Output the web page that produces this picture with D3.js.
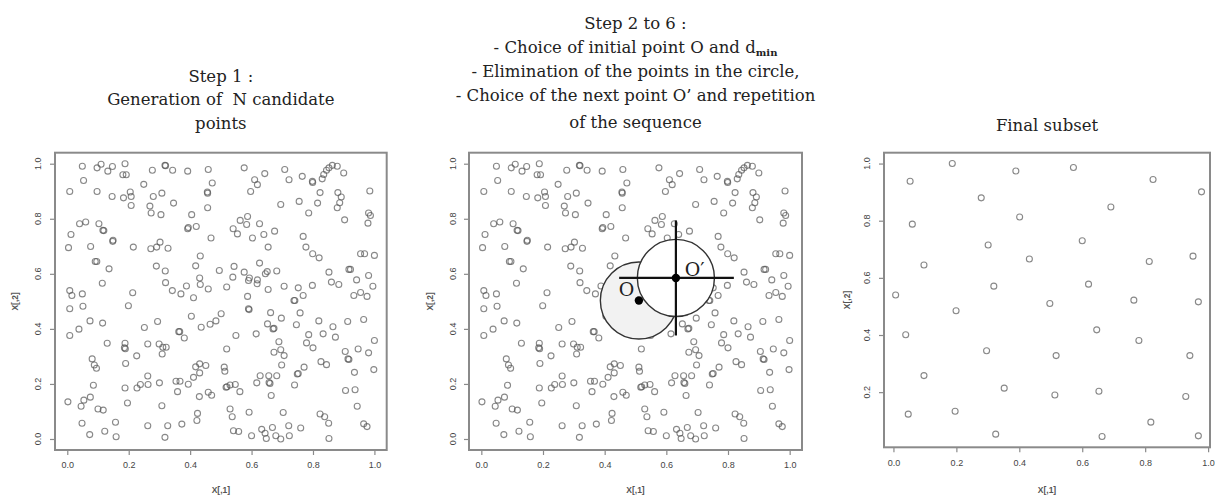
<!DOCTYPE html>
<html>
<head>
<meta charset="utf-8">
<script src="https://cdn.jsdelivr.net/npm/d3@7"></script>
<style>
  html, body { margin: 0; padding: 0; background: #fff; }
  svg { display: block; }
</style>
</head>
<body>
<svg id="chart" width="1216" height="496"></svg>
<script>
// ---------------- DATA ----------------
const candidatePoints = [
  [0.049,0.991],[0.097,0.985],[0.110,0.998],[0.132,0.973],[0.147,0.990],[0.188,1.000],[0.181,0.960],[0.192,0.960],
  [0.277,0.976],[0.318,0.994],[0.320,0.993],[0.343,0.976],[0.392,0.973],[0.459,0.979],[0.576,0.985],[0.643,0.964],
  [0.708,0.979],[0.765,0.954],[0.798,0.936],[0.799,0.932],[0.830,0.945],[0.835,0.961],[0.844,0.976],[0.852,0.985],
  [0.863,0.994],[0.879,0.991],[0.900,0.966],[0.053,0.939],[0.008,0.899],[0.097,0.899],[0.146,0.881],
  [0.183,0.876],[0.205,0.897],[0.208,0.881],[0.208,0.848],[0.249,0.925],[0.280,0.881],[0.308,0.893],[0.269,0.846],
  [0.273,0.821],[0.305,0.815],[0.346,0.857],[0.405,0.815],[0.457,0.893],[0.456,0.897],[0.457,0.840],[0.472,0.930],
  [0.610,0.942],[0.619,0.924],[0.597,0.899],[0.722,0.942],[0.695,0.852],[0.755,0.863],[0.786,0.821],[0.815,0.857],
  [0.823,0.895],[0.881,0.895],[0.892,0.879],[0.887,0.858],[0.879,0.840],[0.985,0.901],[0.981,0.821],[0.987,0.812],
  [0.903,0.796],[0.979,0.784],
  [0.040,0.782],[0.060,0.788],[0.012,0.743],[0.103,0.782],[0.116,0.758],[0.119,0.757],[0.148,0.718],[0.149,0.722],
  [0.004,0.695],[0.076,0.699],[0.215,0.697],[0.272,0.691],[0.291,0.697],[0.302,0.715],[0.328,0.693],[0.392,0.764],
  [0.394,0.768],[0.420,0.772],[0.433,0.665],[0.468,0.730],[0.091,0.645],[0.096,0.645],[0.136,0.618],[0.114,0.566],
  [0.290,0.628],[0.319,0.610],[0.320,0.568],[0.342,0.539],[0.370,0.527],[0.388,0.556],[0.418,0.629],[0.431,0.585],
  [0.433,0.561],[0.411,0.513],[0.459,0.545],[0.495,0.612],[0.519,0.552],[0.543,0.627],[0.539,0.588],
  [0.563,0.794],[0.587,0.808],[0.584,0.779],[0.540,0.764],[0.554,0.745],[0.603,0.730],[0.626,0.782],[0.640,0.743],
  [0.675,0.755],[0.654,0.697],[0.576,0.606],[0.590,0.576],[0.593,0.585],[0.619,0.578],[0.618,0.564],[0.626,0.639],
  [0.645,0.600],[0.651,0.608],[0.682,0.610],[0.654,0.543],[0.706,0.555],[0.752,0.549],[0.768,0.521],[0.798,0.558],
  [0.768,0.736],[0.777,0.697],[0.799,0.673],[0.820,0.658],[0.852,0.606],[0.860,0.570],[0.884,0.561],[0.917,0.616],
  [0.922,0.616],[0.942,0.578],[0.955,0.673],[0.968,0.673],[1.000,0.667],[0.981,0.594],[0.995,0.555],[0.933,0.521],
  [0.955,0.532],[0.976,0.518],
  [0.008,0.539],[0.015,0.521],[0.049,0.527],[0.008,0.473],[0.051,0.482],[0.213,0.531],[0.199,0.484],[0.074,0.429],
  [0.115,0.421],[0.038,0.399],[0.008,0.376],[0.251,0.405],[0.294,0.427],[0.404,0.446],[0.436,0.406],[0.465,0.417],
  [0.484,0.429],[0.501,0.455],[0.590,0.473],[0.592,0.470],[0.587,0.518],[0.662,0.459],[0.652,0.418],[0.673,0.402],
  [0.670,0.400],[0.697,0.439],[0.738,0.503],[0.741,0.503],[0.758,0.458],[0.746,0.415],[0.819,0.429],[0.865,0.408],
  [0.913,0.427],[0.965,0.434],[0.363,0.390],[0.366,0.390],[0.381,0.367],[0.549,0.376],[0.615,0.382],[0.786,0.379],
  [0.833,0.382],[0.873,0.370],
  [0.188,0.348],[0.186,0.331],[0.189,0.328],[0.262,0.345],[0.299,0.345],[0.311,0.333],[0.322,0.333],[0.309,0.309],
  [0.130,0.348],[0.226,0.302],[0.081,0.291],[0.088,0.269],[0.095,0.257],[0.190,0.274],[0.519,0.327],[0.689,0.353],
  [0.673,0.315],[0.695,0.324],[0.706,0.303],[0.800,0.331],[0.779,0.349],[0.905,0.318],[0.914,0.291],[0.917,0.289],
  [0.947,0.327],[1.000,0.358],[0.981,0.313],[0.418,0.262],[0.431,0.273],[0.451,0.267],[0.431,0.240],[0.411,0.224],
  [0.511,0.261],[0.513,0.246],[0.698,0.269],[0.771,0.261],[0.749,0.236],[0.752,0.238],[0.826,0.281],[0.844,0.270],
  [0.935,0.242],[0.998,0.252],[0.085,0.195],[0.262,0.229],[0.263,0.198],[0.300,0.204],[0.238,0.198],[0.227,0.185],
  [0.188,0.185],[0.354,0.210],[0.367,0.210],[0.359,0.172],[0.394,0.199],[0.517,0.188],[0.520,0.190],[0.530,0.196],
  [0.547,0.198],[0.562,0.172],[0.617,0.204],[0.628,0.230],[0.656,0.230],[0.660,0.202],[0.657,0.205],[0.682,0.230],
  [0.664,0.158],[0.740,0.196],[0.906,0.176],[0.937,0.179],
  [0.002,0.135],[0.045,0.119],[0.054,0.141],[0.075,0.152],[0.100,0.109],[0.117,0.105],[0.196,0.131],[0.308,0.121],
  [0.430,0.154],[0.459,0.170],[0.470,0.159],[0.530,0.109],[0.537,0.081],[0.592,0.097],[0.703,0.096],[0.424,0.093],
  [0.422,0.067],[0.048,0.057],[0.157,0.061],[0.073,0.016],[0.122,0.028],[0.159,0.008],[0.262,0.048],[0.318,0.006],
  [0.327,0.048],[0.373,0.054],[0.541,0.030],[0.558,0.027],[0.600,0.012],[0.633,0.035],[0.644,0.021],[0.648,0.002],
  [0.668,0.042],[0.679,0.012],[0.695,0.000],[0.723,0.012],[0.721,0.048],[0.760,0.040],[0.823,0.091],[0.838,0.081],
  [0.851,0.057],[0.852,0.002],[0.944,0.119],[0.965,0.055],[0.976,0.045]
];

const finalPoints = [
  [0.187,1.000],[0.389,0.974],[0.572,0.986],[0.053,0.938],[0.825,0.944],[0.979,0.901],[0.279,0.880],[0.691,0.848],
  [0.401,0.813],[0.060,0.788],[0.600,0.730],[0.301,0.715],[0.432,0.666],[0.952,0.676],[0.813,0.657],[0.097,0.645],
  [0.620,0.578],[0.319,0.571],[0.007,0.540],[0.764,0.522],[0.969,0.516],[0.497,0.510],[0.199,0.485],[0.646,0.418],
  [0.039,0.401],[0.780,0.381],[0.296,0.345],[0.517,0.328],[0.942,0.328],[0.097,0.258],[0.352,0.214],[0.653,0.203],
  [0.513,0.190],[0.929,0.185],[0.047,0.123],[0.196,0.133],[0.818,0.095],[0.325,0.053],[0.663,0.045],[0.969,0.047]
];

const xTickValues = [0, 0.2, 0.4, 0.6, 0.8, 1.0];
const yTickValuesFull = [0, 0.2, 0.4, 0.6, 0.8, 1.0];
const yTickValuesFinal = [0.2, 0.4, 0.6, 0.8, 1.0];

const title1 = ["Step 1 :", "Generation of  N candidate", "points"];
const title2 = ["Step 2 to 6 :", "- Choice of initial point O and d", "- Elimination of the points in the circle,", "- Choice of the next point O\u2019 and repetition", "of the sequence"];
const title3 = ["Final subset"];

const pointO = [0.511, 0.503];
const pointOprime = [0.631, 0.585];
const dmin = 0.125;
const crossH = [0.447, 0.819];
const crossV = [0.376, 0.794];

// ---------------- LAYOUT ----------------
const svg = d3.select("#chart");
const panels = [
  { left: 55,  right: 386.7, top: 152.7, bottom: 450, xd: [-0.04, 1.04], yd: [-0.04, 1.04], pts: candidatePoints, yt: yTickValuesFull, ylabX: 38, ytitX: 15 },
  { left: 469, right: 802,   top: 152.7, bottom: 450, xd: [-0.04, 1.04], yd: [-0.04, 1.04], pts: candidatePoints, yt: yTickValuesFull, ylabX: 453, ytitX: 430 },
  { left: 884, right: 1210,  top: 152.7, bottom: 447.3, xd: [-0.03, 1.006], yd: [0.007, 1.038], pts: finalPoints, yt: yTickValuesFinal, ylabX: 867, ytitX: 847 }
];

const axisColor = "#8a8a8a";
const fmt = d3.format(".1f");

panels.forEach((p, i) => {
  p.x = d3.scaleLinear().domain(p.xd).range([p.left, p.right]);
  p.y = d3.scaleLinear().domain(p.yd).range([p.bottom, p.top]);
  const g = svg.append("g");

  // points
  g.append("g").selectAll("circle").data(p.pts).join("circle")
    .attr("cx", d => p.x(d[0])).attr("cy", d => p.y(d[1])).attr("r", 3)
    .attr("fill", "none").attr("stroke", "#555").attr("stroke-opacity", 0.7).attr("stroke-width", 1.1);

  // x axis
  const xa = g.append("g").attr("transform", `translate(0,${p.bottom})`)
    .call(d3.axisBottom(p.x).tickValues(xTickValues).tickFormat(fmt).tickSize(5).tickPadding(7));
  xa.select(".domain").remove();
  xa.selectAll("line").attr("stroke", axisColor).attr("stroke-width", 1.2);
  xa.selectAll("text").attr("font-family", "Liberation Sans, Arial, sans-serif").attr("font-size", 9).attr("fill", "#444");

  // y axis
  const ya = g.append("g").attr("transform", `translate(${p.left},0)`)
    .call(d3.axisLeft(p.y).tickValues(p.yt).tickFormat("").tickSize(5));
  ya.select(".domain").remove();
  ya.selectAll("line").attr("stroke", axisColor).attr("stroke-width", 1.2);
  g.append("g").selectAll("text").data(p.yt).join("text")
    .attr("transform", d => `translate(${p.ylabX},${p.y(d)}) rotate(-90)`)
    .attr("text-anchor", "middle").attr("dy", "0.35em")
    .attr("font-family", "Liberation Sans, Arial, sans-serif").attr("font-size", 9).attr("fill", "#444")
    .text(fmt);

  // axis titles
  g.append("text").attr("x", (p.left + p.right) / 2).attr("y", 493)
    .attr("text-anchor", "middle").attr("font-family", "Liberation Sans, Arial, sans-serif")
    .attr("font-size", 8.5).attr("font-weight", "bold").attr("fill", "#555").text("X[,1]");
  g.append("text").attr("transform", `translate(${p.ytitX},${(p.top + p.bottom) / 2}) rotate(-90)`)
    .attr("text-anchor", "middle").attr("dy", "0.35em").attr("font-family", "Liberation Sans, Arial, sans-serif")
    .attr("font-size", 8.5).attr("font-weight", "bold").attr("fill", "#555").text("X[,2]");

  p.g = g;
});

// ---------- circles on panel 2 ----------
const p2 = panels[1];
const rPix = p2.x(dmin) - p2.x(0);
const ov = p2.g.append("g");
ov.append("circle").attr("cx", p2.x(pointO[0])).attr("cy", p2.y(pointO[1])).attr("r", rPix)
  .attr("fill", "#f2f2f2").attr("stroke", "#333").attr("stroke-width", 1.4);
ov.append("circle").attr("cx", p2.x(pointOprime[0])).attr("cy", p2.y(pointOprime[1])).attr("r", rPix)
  .attr("fill", "#fff").attr("stroke", "#333").attr("stroke-width", 1.4);
ov.append("line").attr("x1", p2.x(crossH[0])).attr("x2", p2.x(crossH[1]))
  .attr("y1", p2.y(pointOprime[1])).attr("y2", p2.y(pointOprime[1]))
  .attr("stroke", "#111").attr("stroke-width", 2.2);
ov.append("line").attr("x1", p2.x(pointOprime[0])).attr("x2", p2.x(pointOprime[0]))
  .attr("y1", p2.y(crossV[0])).attr("y2", p2.y(crossV[1]))
  .attr("stroke", "#111").attr("stroke-width", 2.2);
ov.append("circle").attr("cx", p2.x(pointO[0])).attr("cy", p2.y(pointO[1])).attr("r", 4.2).attr("fill", "#000");
ov.append("circle").attr("cx", p2.x(pointOprime[0])).attr("cy", p2.y(pointOprime[1])).attr("r", 4.2).attr("fill", "#000");
ov.append("text").attr("x", p2.x(0.471)).attr("y", p2.y(0.545)).attr("dy", "0.35em").attr("text-anchor", "middle")
  .attr("font-family", "DejaVu Serif, serif").attr("font-size", 19).attr("fill", "#222").text("O");
ov.append("text").attr("x", p2.x(0.692)).attr("y", p2.y(0.618)).attr("dy", "0.35em").attr("text-anchor", "middle")
  .attr("font-family", "DejaVu Serif, serif").attr("font-size", 19).attr("fill", "#222").text("O\u2032");

// boxes (drawn last)
panels.forEach(p => {
  svg.append("rect").attr("x", p.left).attr("y", p.top)
    .attr("width", p.right - p.left).attr("height", p.bottom - p.top)
    .attr("fill", "none").attr("stroke", axisColor).attr("stroke-width", 2);
});

// ---------- titles ----------
const tfont = "DejaVu Serif, Liberation Serif, serif";
function drawTitle(lines, cx, baselines) {
  lines.forEach((t, i) => {
    const txt = svg.append("text").attr("x", cx).attr("y", baselines[i]).attr("text-anchor", "middle")
      .attr("font-family", tfont).attr("font-size", 16.5).attr("fill", "#222").attr("xml:space", "preserve");
    txt.append("tspan").text(t);
    if (t.endsWith("and d")) {
      txt.append("tspan").attr("font-size", 10).attr("font-weight", "bold").attr("dy", 3).text("min");
    }
  });
}
drawTitle(title1, (panels[0].left + panels[0].right) / 2, [82, 105, 129]);
drawTitle(title2, (panels[1].left + panels[1].right) / 2, [29, 53, 77, 101, 128]);
drawTitle(title3, (panels[2].left + panels[2].right) / 2, [131]);
</script>
</body>
</html>
